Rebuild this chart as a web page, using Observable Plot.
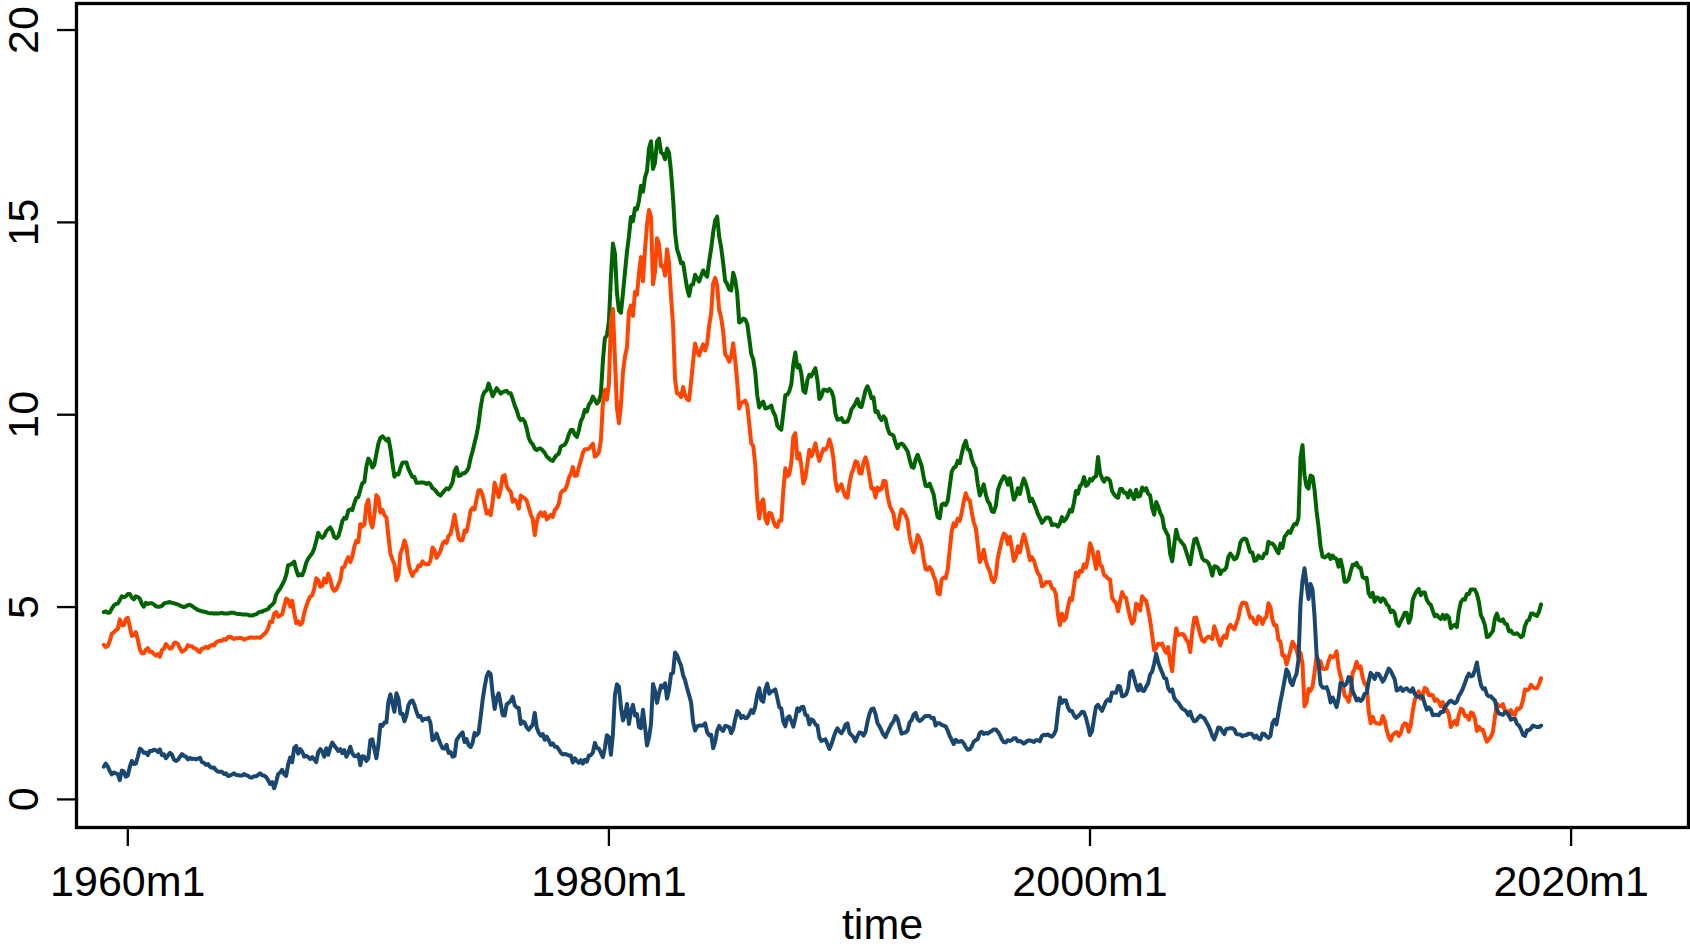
<!DOCTYPE html>
<html>
<head>
<meta charset="utf-8">
<script src="https://cdn.jsdelivr.net/npm/d3@7"></script>
<script src="https://cdn.jsdelivr.net/npm/@observablehq/plot@0.6"></script>
<style>
  html, body { margin: 0; padding: 0; background: #fff; }
  #chart { width: 1690px; height: 946px; }
</style>
</head>
<body>
<div id="chart"></div>
<script>
// Monthly series starting 1959m1, ending 2018m10
const startYear = 1959;
const startMonth = 1;

const baa = [
 4.87,4.89,4.85,4.86,4.96,5.04,5.08,5.09,5.18,5.28,5.26,5.28, // 1959
 5.34,5.34,5.25,5.20,5.28,5.26,5.22,5.08,5.01,5.11,5.08,5.10, // 1960
 5.10,5.07,5.02,5.01,5.01,5.03,5.09,5.11,5.12,5.13,5.11,5.10, // 1961
 5.08,5.07,5.04,5.02,5.00,5.02,5.05,5.06,5.03,4.99,4.96,4.92, // 1962
 4.91,4.89,4.88,4.87,4.85,4.84,4.84,4.83,4.84,4.83,4.84,4.85, // 1963
 4.83,4.83,4.83,4.85,4.85,4.85,4.83,4.82,4.82,4.81,4.81,4.81, // 1964
 4.80,4.78,4.78,4.80,4.81,4.85,4.88,4.88,4.91,4.93,4.95,5.02, // 1965
 5.06,5.12,5.32,5.41,5.48,5.58,5.68,5.83,6.09,6.10,6.13,6.18, // 1966
 5.97,5.82,5.85,5.83,5.96,6.15,6.26,6.33,6.40,6.52,6.72,6.93, // 1967
 6.84,6.80,6.85,6.97,7.03,7.07,6.98,6.82,6.79,6.84,7.01,7.23, // 1968
 7.32,7.30,7.51,7.54,7.52,7.70,7.84,7.86,8.05,8.22,8.25,8.65, // 1969
 8.86,8.78,8.63,8.70,8.98,9.25,9.40,9.44,9.39,9.33,9.38,9.12, // 1970
 8.74,8.39,8.46,8.45,8.62,8.75,8.76,8.76,8.59,8.48,8.38,8.38, // 1971
 8.23,8.23,8.24,8.24,8.23,8.20,8.23,8.19,8.09,8.06,7.99,7.93, // 1972
 7.90,7.97,8.03,8.09,8.06,8.13,8.24,8.53,8.63,8.41,8.42,8.48, // 1973
 8.48,8.53,8.62,8.87,9.05,9.27,9.48,9.77,10.18,10.48,10.60,10.63, // 1974
 10.81,10.65,10.48,10.58,10.69,10.62,10.55,10.59,10.61,10.62,10.56,10.56, // 1975
 10.41,10.24,10.12,9.94,9.86,9.89,9.82,9.64,9.40,9.29,9.23,9.12, // 1976
 9.08,9.12,9.12,9.07,9.01,8.91,8.87,8.82,8.80,8.89,8.95,8.99, // 1977
 9.17,9.20,9.22,9.32,9.49,9.60,9.60,9.48,9.42,9.59,9.83,9.94, // 1978
 10.13,10.08,10.26,10.33,10.47,10.38,10.29,10.35,10.54,11.40,11.99,12.06, // 1979
 12.42,13.57,14.45,14.19,13.17,12.71,12.65,13.15,13.70,14.23,14.64,15.14, // 1980
 15.03,15.37,15.34,15.56,15.95,15.80,16.17,16.34,16.92,17.11,16.39,16.55, // 1981
 17.10,17.18,16.82,16.78,16.64,16.92,16.80,16.32,15.63,14.73,14.30,14.14, // 1982
 13.94,13.95,13.61,13.29,13.09,13.37,13.39,13.64,13.55,13.46,13.61,13.75, // 1983
 13.65,13.59,13.99,14.31,14.74,15.05,15.15,14.63,14.35,13.94,13.48,13.40, // 1984
 13.26,13.23,13.69,13.51,13.15,12.40,12.43,12.50,12.48,12.36,11.99,11.58, // 1985
 11.44,11.11,10.50,10.19,10.29,10.34,10.16,10.18,10.20,10.24,10.07,9.97, // 1986
 9.72,9.65,9.61,10.04,10.51,10.52,10.61,10.80,11.31,11.62,11.23,11.29, // 1987
 11.07,10.62,10.57,10.90,11.04,11.00,11.11,11.21,10.90,10.41,10.48,10.65, // 1988
 10.65,10.61,10.67,10.61,10.46,10.03,9.87,9.88,9.91,9.81,9.81,9.82, // 1989
 9.94,10.14,10.21,10.30,10.41,10.22,10.20,10.41,10.64,10.74,10.62,10.43, // 1990
 10.45,10.07,10.09,9.94,9.86,9.96,9.89,9.65,9.51,9.49,9.45,9.26, // 1991
 9.13,9.23,9.25,9.21,9.13,9.05,8.84,8.65,8.62,8.84,8.96,8.81, // 1992
 8.67,8.39,8.15,8.14,8.21,8.07,7.93,7.60,7.34,7.31,7.66,7.69, // 1993
 7.65,7.76,8.13,8.52,8.62,8.65,8.80,8.74,8.98,9.20,9.32,9.10, // 1994
 9.08,8.85,8.70,8.60,8.20,7.90,8.04,8.19,7.93,7.75,7.68,7.49, // 1995
 7.47,7.63,8.03,8.19,8.30,8.40,8.35,8.18,8.35,8.07,7.79,7.89, // 1996
 8.09,7.94,8.18,8.34,8.20,8.02,7.75,7.82,7.70,7.57,7.42,7.32, // 1997
 7.19,7.25,7.32,7.33,7.30,7.13,7.15,7.14,7.09,7.18,7.34,7.23, // 1998
 7.29,7.39,7.53,7.48,7.72,8.02,7.95,8.15,8.20,8.38,8.15,8.19, // 1999
 8.33,8.29,8.37,8.40,8.90,8.48,8.35,8.26,8.35,8.34,8.28,8.02, // 2000
 7.93,7.87,7.84,8.07,8.07,7.97,7.97,7.85,8.03,7.91,7.81,8.05, // 2001
 7.87,7.89,8.11,8.03,8.09,7.95,7.90,7.58,7.40,7.73,7.62,7.45, // 2002
 7.35,7.06,6.95,6.85,6.38,6.19,6.62,7.01,6.79,6.73,6.66,6.60, // 2003
 6.44,6.27,6.11,6.46,6.75,6.78,6.62,6.46,6.27,6.21,6.20,6.15, // 2004
 6.02,5.82,6.06,6.05,6.01,5.86,5.95,5.96,6.03,6.30,6.39,6.32, // 2005
 6.24,6.27,6.41,6.68,6.75,6.78,6.76,6.59,6.43,6.42,6.20,6.22, // 2006
 6.34,6.28,6.27,6.39,6.39,6.70,6.65,6.65,6.59,6.48,6.40,6.65, // 2007
 6.54,6.82,6.89,6.97,6.93,7.07,7.16,7.15,7.31,8.88,9.21,8.43, // 2008
 8.14,8.08,8.42,8.39,8.06,7.50,7.09,6.58,6.31,6.29,6.32,6.37, // 2009
 6.25,6.34,6.27,6.25,6.05,6.23,6.01,5.66,5.66,5.72,5.92,6.10, // 2010
 6.09,6.15,6.03,6.02,5.78,5.75,5.76,5.36,5.27,5.37,5.14,5.25, // 2011
 5.23,5.14,5.23,5.19,5.07,5.02,4.87,4.91,4.84,4.58,4.51,4.63, // 2012
 4.73,4.85,4.85,4.59,4.73,5.19,5.32,5.42,5.47,5.31,5.38,5.38, // 2013
 5.19,5.10,5.06,4.90,4.76,4.80,4.73,4.69,4.80,4.69,4.79,4.74, // 2014
 4.45,4.51,4.54,4.48,4.89,5.13,5.20,5.19,5.34,5.34,5.46,5.46, // 2015
 5.45,5.34,5.13,4.79,4.68,4.53,4.22,4.24,4.31,4.38,4.71,4.83, // 2016
 4.66,4.64,4.68,4.57,4.55,4.37,4.39,4.31,4.30,4.32,4.27,4.22, // 2017
 4.26,4.51,4.64,4.67,4.83,4.83,4.79,4.77,4.88,5.07             // 2018
];

const gs10 = [
 4.02,3.96,3.99,4.12,4.31,4.34,4.40,4.43,4.68,4.53,4.53,4.69, // 1959
 4.72,4.49,4.25,4.28,4.35,4.15,3.90,3.80,3.80,3.89,3.93,3.84, // 1960
 3.84,3.78,3.74,3.78,3.71,3.88,3.92,4.04,3.98,3.92,3.94,4.06, // 1961
 4.08,4.04,3.93,3.84,3.87,3.91,4.01,3.98,3.98,3.93,3.92,3.86, // 1962
 3.83,3.92,3.93,3.97,3.93,3.99,4.02,4.00,4.08,4.11,4.12,4.13, // 1963
 4.17,4.15,4.22,4.23,4.20,4.17,4.19,4.19,4.20,4.19,4.15,4.18, // 1964
 4.19,4.21,4.21,4.20,4.21,4.21,4.20,4.25,4.29,4.35,4.45,4.62, // 1965
 4.61,4.83,4.87,4.75,4.78,4.81,5.02,5.22,5.18,5.01,5.16,4.84, // 1966
 4.58,4.63,4.54,4.59,4.85,5.02,5.16,5.28,5.30,5.48,5.75,5.70, // 1967
 5.53,5.56,5.74,5.64,5.87,5.72,5.50,5.42,5.46,5.58,5.70,6.03, // 1968
 6.04,6.19,6.30,6.17,6.32,6.57,6.72,6.69,7.16,7.10,7.14,7.65, // 1969
 7.79,7.24,7.07,7.39,7.91,7.84,7.46,7.53,7.39,7.33,6.84,6.39, // 1970
 6.24,6.11,5.70,5.83,6.39,6.52,6.73,6.58,6.14,5.93,5.81,5.93, // 1971
 5.95,6.08,6.07,6.19,6.13,6.11,6.11,6.21,6.55,6.48,6.28,6.36, // 1972
 6.46,6.64,6.71,6.67,6.85,6.90,7.13,7.40,7.09,6.79,6.73,6.74, // 1973
 6.99,6.96,7.21,7.51,7.58,7.54,7.81,8.04,8.04,7.90,7.68,7.43, // 1974
 7.50,7.39,7.73,8.23,8.06,7.86,8.06,8.40,8.43,8.15,8.05,8.00, // 1975
 7.74,7.79,7.73,7.56,7.90,7.86,7.83,7.77,7.59,7.41,7.29,6.87, // 1976
 7.21,7.39,7.46,7.37,7.46,7.28,7.33,7.40,7.34,7.52,7.58,7.69, // 1977
 7.96,8.03,8.04,8.15,8.35,8.46,8.64,8.41,8.42,8.64,8.81,9.01, // 1978
 9.10,9.10,9.12,9.18,9.25,8.91,8.95,9.03,9.33,10.30,10.65,10.39, // 1979
 10.80,12.41,12.75,11.47,10.18,9.78,10.25,11.10,11.51,11.75,12.68,12.84, // 1980
 12.57,13.19,13.12,13.68,14.10,13.47,14.28,14.94,15.32,15.15,13.39,13.72, // 1981
 14.59,14.43,13.86,13.87,13.62,14.30,13.95,13.06,12.34,10.91,10.55,10.54, // 1982
 10.46,10.72,10.51,10.40,10.38,10.85,11.38,11.85,11.65,11.54,11.69,11.83, // 1983
 11.67,11.84,12.32,12.63,13.41,13.56,13.36,12.72,12.52,12.16,11.57,11.50, // 1984
 11.38,11.51,11.86,11.43,10.85,10.16,10.31,10.33,10.37,10.24,9.78,9.26, // 1985
 9.19,8.70,7.78,7.30,7.71,7.80,7.30,7.17,7.45,7.43,7.25,7.11, // 1986
 7.08,7.25,7.25,8.02,8.61,8.40,8.45,8.76,9.42,9.52,8.86,8.99, // 1987
 8.67,8.21,8.37,8.72,9.09,8.92,9.06,9.26,8.98,8.80,8.96,9.11, // 1988
 9.09,9.17,9.36,9.18,8.86,8.28,8.02,8.11,8.19,8.01,7.87,7.84, // 1989
 8.21,8.47,8.59,8.79,8.76,8.48,8.47,8.75,8.89,8.72,8.39,8.08, // 1990
 8.09,7.85,8.11,8.04,8.07,8.28,8.27,7.90,7.65,7.53,7.42,7.09, // 1991
 7.03,7.34,7.54,7.48,7.39,7.26,6.84,6.59,6.42,6.59,6.87,6.77, // 1992
 6.60,6.26,5.98,5.97,6.04,5.96,5.81,5.68,5.36,5.33,5.72,5.77, // 1993
 5.75,5.97,6.48,6.97,7.18,7.10,7.30,7.24,7.46,7.74,7.96,7.81, // 1994
 7.78,7.47,7.20,7.06,6.63,6.17,6.28,6.49,6.20,6.04,5.93,5.71, // 1995
 5.65,5.81,6.27,6.51,6.74,6.91,6.87,6.64,6.83,6.53,6.20,6.30, // 1996
 6.58,6.42,6.69,6.89,6.71,6.49,6.22,6.30,6.21,6.03,5.88,5.81, // 1997
 5.54,5.57,5.65,5.64,5.65,5.50,5.46,5.34,4.81,4.53,4.83,4.65, // 1998
 4.72,5.00,5.23,5.18,5.54,5.90,5.79,5.94,5.92,6.11,6.03,6.28, // 1999
 6.66,6.52,6.26,5.99,6.44,6.10,6.05,5.83,5.80,5.74,5.72,5.24, // 2000
 5.16,5.10,4.89,5.14,5.39,5.28,5.24,4.97,4.73,4.57,4.65,5.09, // 2001
 5.04,4.91,5.28,5.21,5.16,4.93,4.65,4.26,3.87,3.94,4.05,4.03, // 2002
 4.05,3.90,3.81,3.96,3.57,3.33,3.98,4.45,4.27,4.29,4.30,4.27, // 2003
 4.15,4.08,3.83,4.35,4.72,4.73,4.50,4.28,4.13,4.10,4.19,4.23, // 2004
 4.22,4.17,4.50,4.34,4.14,4.00,4.18,4.26,4.20,4.46,4.54,4.47, // 2005
 4.42,4.57,4.72,4.99,5.11,5.11,5.09,4.88,4.72,4.73,4.60,4.56, // 2006
 4.76,4.72,4.56,4.69,4.75,5.10,5.00,4.67,4.52,4.53,4.15,4.10, // 2007
 3.74,3.74,3.51,3.68,3.88,4.10,4.01,3.89,3.69,3.81,3.53,2.42, // 2008
 2.52,2.87,2.82,2.93,3.29,3.72,3.56,3.59,3.40,3.39,3.40,3.59, // 2009
 3.73,3.69,3.73,3.85,3.42,3.20,3.01,2.70,2.65,2.54,2.76,3.29, // 2010
 3.39,3.58,3.41,3.46,3.17,3.00,3.00,2.30,1.98,2.15,2.01,1.98, // 2011
 1.97,1.97,2.17,2.05,1.80,1.62,1.53,1.68,1.72,1.75,1.65,1.72, // 2012
 1.91,1.98,1.96,1.76,1.93,2.30,2.58,2.74,2.81,2.62,2.72,2.90, // 2013
 2.86,2.71,2.72,2.71,2.56,2.60,2.54,2.42,2.53,2.30,2.33,2.21, // 2014
 1.88,1.98,2.04,1.94,2.20,2.36,2.32,2.17,2.17,2.07,2.26,2.24, // 2015
 2.09,1.78,1.89,1.81,1.81,1.64,1.50,1.56,1.63,1.76,2.14,2.49, // 2016
 2.43,2.42,2.48,2.30,2.30,2.19,2.32,2.21,2.20,2.36,2.35,2.40, // 2017
 2.58,2.86,2.84,2.87,2.98,2.91,2.89,2.89,3.00,3.15             // 2018
];

const spread = [
 0.85,0.93,0.86,0.74,0.65,0.70,0.68,0.66,0.50,0.75,0.73,0.59, // 1959
 0.62,0.85,1.00,0.92,0.93,1.11,1.32,1.28,1.21,1.22,1.15,1.26, // 1960
 1.26,1.29,1.28,1.23,1.30,1.15,1.17,1.07,1.14,1.21,1.17,1.04, // 1961
 1.00,1.03,1.11,1.18,1.13,1.11,1.04,1.08,1.05,1.06,1.04,1.06, // 1962
 1.08,0.97,0.95,0.90,0.92,0.85,0.82,0.83,0.76,0.72,0.72,0.72, // 1963
 0.66,0.68,0.61,0.62,0.65,0.68,0.64,0.63,0.62,0.62,0.66,0.63, // 1964
 0.61,0.57,0.57,0.60,0.60,0.64,0.68,0.63,0.62,0.58,0.50,0.40, // 1965
 0.45,0.29,0.45,0.66,0.70,0.77,0.66,0.61,0.91,1.09,0.97,1.34, // 1966
 1.39,1.19,1.31,1.24,1.11,1.13,1.10,1.05,1.10,1.04,0.97,1.23, // 1967
 1.31,1.24,1.11,1.33,1.16,1.35,1.48,1.40,1.33,1.26,1.31,1.20, // 1968
 1.28,1.11,1.21,1.37,1.20,1.13,1.12,1.17,0.89,1.12,1.11,1.00, // 1969
 1.07,1.54,1.56,1.31,1.07,1.41,1.94,1.91,2.00,2.00,2.54,2.73, // 1970
 2.50,2.28,2.76,2.62,2.23,2.23,2.03,2.18,2.45,2.55,2.57,2.45, // 1971
 2.28,2.15,2.17,2.05,2.10,2.09,2.12,1.98,1.54,1.58,1.71,1.57, // 1972
 1.44,1.33,1.32,1.42,1.21,1.23,1.11,1.13,1.54,1.62,1.69,1.74, // 1973
 1.49,1.57,1.41,1.36,1.47,1.73,1.67,1.73,2.14,2.58,2.92,3.20, // 1974
 3.31,3.26,2.75,2.35,2.63,2.76,2.49,2.19,2.18,2.47,2.51,2.56, // 1975
 2.67,2.45,2.39,2.38,1.96,2.03,1.99,1.87,1.81,1.88,1.94,2.25, // 1976
 1.87,1.73,1.66,1.70,1.55,1.63,1.54,1.42,1.46,1.37,1.37,1.30, // 1977
 1.21,1.17,1.18,1.17,1.14,1.14,0.96,1.07,1.00,0.95,1.02,0.93, // 1978
 1.03,0.98,1.14,1.15,1.22,1.47,1.34,1.32,1.21,1.10,1.34,1.67, // 1979
 1.62,1.16,1.70,2.72,2.99,2.93,2.40,2.05,2.19,2.48,1.96,2.30, // 1980
 2.46,2.18,2.22,1.88,1.85,2.33,1.89,1.40,1.60,1.96,3.00,2.83, // 1981
 2.51,2.75,2.96,2.91,3.02,2.62,2.85,3.26,3.29,3.82,3.75,3.60, // 1982
 3.48,3.23,3.10,2.89,2.71,2.52,2.01,1.79,1.90,1.92,1.92,1.92, // 1983
 1.98,1.75,1.67,1.68,1.33,1.49,1.79,1.91,1.83,1.78,1.91,1.90, // 1984
 1.88,1.72,1.83,2.08,2.30,2.24,2.12,2.17,2.11,2.12,2.21,2.32, // 1985
 2.25,2.41,2.72,2.89,2.58,2.54,2.86,3.01,2.75,2.81,2.82,2.86, // 1986
 2.64,2.40,2.36,2.02,1.90,2.12,2.16,2.04,1.89,2.10,2.37,2.30, // 1987
 2.40,2.41,2.20,2.18,1.95,2.08,2.05,1.95,1.92,1.61,1.52,1.54, // 1988
 1.56,1.44,1.31,1.43,1.60,1.75,1.85,1.77,1.72,1.80,1.94,1.98, // 1989
 1.73,1.67,1.62,1.51,1.65,1.74,1.73,1.66,1.75,2.02,2.23,2.35, // 1990
 2.36,2.22,1.98,1.90,1.79,1.68,1.62,1.75,1.86,1.96,2.03,2.17, // 1991
 2.10,1.89,1.71,1.73,1.74,1.79,2.00,2.06,2.20,2.25,2.09,2.04, // 1992
 2.07,2.13,2.17,2.17,2.17,2.11,2.12,1.92,1.98,1.98,1.94,1.92, // 1993
 1.90,1.79,1.65,1.55,1.44,1.55,1.50,1.50,1.52,1.46,1.36,1.29, // 1994
 1.30,1.38,1.50,1.54,1.57,1.73,1.76,1.70,1.73,1.71,1.75,1.78, // 1995
 1.82,1.82,1.76,1.68,1.56,1.49,1.48,1.54,1.52,1.54,1.59,1.59, // 1996
 1.51,1.52,1.49,1.45,1.49,1.53,1.53,1.52,1.49,1.54,1.54,1.51, // 1997
 1.65,1.68,1.67,1.69,1.65,1.63,1.69,1.80,2.28,2.65,2.51,2.58, // 1998
 2.57,2.39,2.30,2.30,2.18,2.12,2.16,2.21,2.28,2.27,2.12,1.91, // 1999
 1.67,1.77,2.11,2.41,2.46,2.38,2.30,2.43,2.55,2.60,2.56,2.78, // 2000
 2.77,2.77,2.95,2.93,2.68,2.69,2.73,2.88,3.30,3.34,3.16,2.96, // 2001
 2.83,2.98,2.83,2.82,2.93,3.02,3.25,3.32,3.53,3.79,3.57,3.42, // 2002
 3.30,3.16,3.14,2.89,2.81,2.86,2.64,2.56,2.52,2.44,2.36,2.33, // 2003
 2.29,2.19,2.28,2.11,2.03,2.05,2.12,2.18,2.14,2.11,2.01,1.92, // 2004
 1.80,1.65,1.56,1.71,1.87,1.86,1.77,1.70,1.83,1.84,1.85,1.85, // 2005
 1.82,1.70,1.69,1.69,1.64,1.67,1.67,1.71,1.71,1.69,1.60,1.66, // 2006
 1.58,1.56,1.71,1.70,1.64,1.60,1.65,1.98,2.07,1.95,2.25,2.55, // 2007
 2.80,3.08,3.38,3.29,3.05,2.97,3.15,3.26,3.62,5.07,5.68,6.01, // 2008
 5.62,5.21,5.60,5.46,4.77,3.78,3.53,2.99,2.91,2.90,2.92,2.78, // 2009
 2.52,2.65,2.54,2.40,2.63,3.03,3.00,2.96,3.01,3.18,3.16,2.81, // 2010
 2.70,2.57,2.62,2.56,2.61,2.75,2.76,3.06,3.29,3.22,3.13,3.27, // 2011
 3.26,3.17,3.06,3.14,3.27,3.40,3.34,3.23,3.12,2.83,2.86,2.91, // 2012
 2.82,2.87,2.89,2.83,2.80,2.89,2.74,2.68,2.66,2.69,2.66,2.48, // 2013
 2.33,2.39,2.34,2.19,2.20,2.20,2.19,2.27,2.27,2.39,2.46,2.53, // 2014
 2.57,2.53,2.50,2.54,2.69,2.77,2.88,3.02,3.17,3.27,3.20,3.22, // 2015
 3.36,3.56,3.24,2.98,2.87,2.89,2.72,2.68,2.68,2.62,2.57,2.34, // 2016
 2.23,2.22,2.20,2.27,2.25,2.18,2.07,2.10,2.10,1.96,1.92,1.82, // 2017
 1.68,1.65,1.80,1.80,1.85,1.92,1.90,1.88,1.88,1.92             // 2018
];

const xTicks = [1960, 1980, 2000, 2020];
const xTickLabels = ["1960m1", "1980m1", "2000m1", "2020m1"];
const yTicks = [0, 5, 10, 15, 20];
const xTitle = "time";

const seriesNames = ["baa", "gs10", "spread"];
const seriesColors = ["#006400", "#ff4500", "#1a476f"];

// Build long table: month index -> decimal year
function toRows(values, name) {
  return values.map((v, i) => {
    const m = startMonth - 1 + i;
    return { t: startYear + m / 12, value: v, series: name };
  });
}
const rows = [
  ...toRows(baa, "baa"),
  ...toRows(gs10, "gs10"),
  ...toRows(spread, "spread")
];

const font = "'Liberation Sans', Arial, Helvetica, sans-serif";

const chart = Plot.plot({
  width: 1690,
  height: 946,
  marginLeft: 76,
  marginRight: 2,
  marginTop: 3,
  marginBottom: 119,
  style: { fontFamily: font, background: "#fff", color: "#000" },
  x: { type: "linear", domain: [1957.867, 2024.88] },
  y: { domain: [-0.73, 20.69] },
  color: { domain: seriesNames, range: seriesColors },
  marks: [
    Plot.axisX({
      ticks: xTicks,
      tickFormat: (d) => xTickLabels[xTicks.indexOf(d)],
      tickSize: 19,
      tickPadding: 19,
      fontSize: 43,
      strokeWidth: 2.3,
      label: null
    }),
    Plot.axisY({
      ticks: yTicks,
      tickSize: 19,
      tickRotate: -90,
      tickPadding: 20,
      fontSize: 43,
      strokeWidth: 2.3,
      label: null
    }),
    Plot.line(rows, {
      x: "t",
      y: "value",
      z: "series",
      stroke: "series",
      strokeWidth: 4,
      strokeLinejoin: "round",
      strokeLinecap: "round"
    }),
    Plot.frame({ stroke: "#000", strokeWidth: 3.3 }),
    Plot.text([xTitle], {
      text: (d) => d,
      frameAnchor: "bottom",
      dy: 111,
      lineAnchor: "bottom",
      fontSize: 43,
      fill: "#000"
    })
  ]
});

document.getElementById("chart").appendChild(chart);
</script>
</body>
</html>
